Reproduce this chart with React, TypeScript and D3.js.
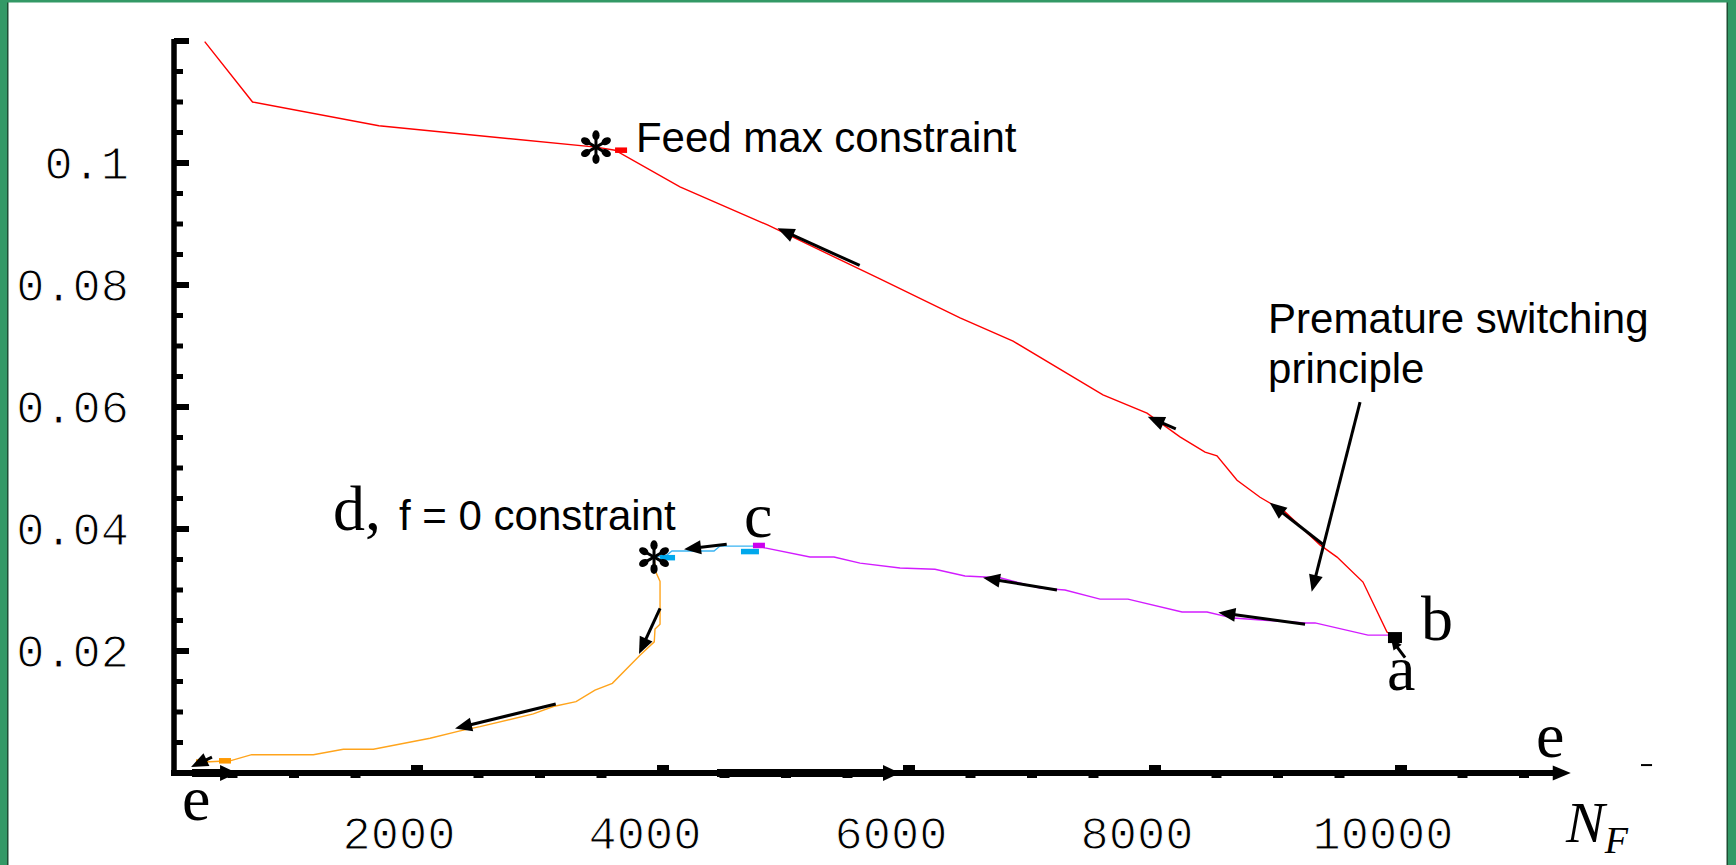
import * as d3 from 'd3';

// upper branch (feed max constraint), from top-left down to b
const redN = [274, 663, 1690, 3455, 3610, 4138, 4854, 5764, 6415, 6846, 7577, 7935, 8203, 8407, 8504, 8667, 8854, 9057, 9341, 9480, 9691, 9886, 9927];
const redV = [0.1199, 0.11, 0.1061, 0.1026, 0.1021, 0.0961, 0.0898, 0.081, 0.0746, 0.0708, 0.062, 0.059, 0.0551, 0.0526, 0.052, 0.048, 0.0452, 0.0428, 0.0374, 0.0354, 0.0313, 0.0231, 0.0226];

// lower branch b -> c
const purpleN = [9911, 9732, 9301, 9220, 8634, 8423, 8220, 7780, 7553, 7268, 7065, 6740, 6455, 6211, 5927, 5602, 5390, 5195, 4829, 4780];
const purpleV = [0.0226, 0.0226, 0.0246, 0.0246, 0.0254, 0.0264, 0.0264, 0.0285, 0.0285, 0.03, 0.0303, 0.032, 0.0323, 0.0334, 0.0336, 0.0344, 0.0354, 0.0354, 0.0369, 0.0372];

// c -> d
const blueN = [4780, 4463, 4415, 4073, 4024, 3927];
const blueV = [0.0372, 0.0372, 0.0364, 0.0364, 0.0356, 0.0354];

// d -> e
const orangeN = [3927, 3941, 3976, 3976, 3935, 3929, 3813, 3588, 3447, 3293, 3108, 2946, 2512, 2350, 2106, 1645, 1401, 1157, 656, 480, 276, 236];
const orangeV = [0.0354, 0.033, 0.0314, 0.0244, 0.0236, 0.0215, 0.0193, 0.0147, 0.0136, 0.0117, 0.0109, 0.0097, 0.0076, 0.0069, 0.0057, 0.0039, 0.0039, 0.003, 0.003, 0.002, 0.0018, 0.0018];

// switching-point markers
const starN = [3455, 3927];
const starV = [0.1026, 0.0354];
const markN = [3659, 4037, 4707, 4780, 439, 252, 9951];
const markV = [0.1021, 0.0353, 0.0363, 0.0373, 0.002, 0.0018, 0.0222];
const markColor = ['#ff0000', '#00a8ec', '#00a8ec', '#cc00ee', '#ff9900', '#ff9900', '#000000'];

// direction arrows: tail -> tip
const arrowFromN = [5599, 8169, 9364, 9667, 9220, 7203, 4518, 3976, 3128, 333, 10033];
const arrowFromV = [0.0832, 0.0564, 0.0375, 0.0608, 0.0244, 0.03, 0.0375, 0.027, 0.0113, 0.0026, 0.0189];
const arrowToN = [4931, 7941, 8933, 9274, 8515, 6602, 4171, 3805, 2309, 163, 9919];
const arrowToV = [0.0893, 0.0584, 0.0443, 0.0297, 0.0263, 0.032, 0.0367, 0.0195, 0.0073, 0.001, 0.022];
// arrows lying on the N axis
const axisArrowFrom = [171, 4439];
const axisArrowTo = [537, 5927];

const xTicks = [2000, 4000, 6000, 8000, 10000];
const xTickLabels = ['2000', '4000', '6000', '8000', '10000'];
const yTicks = [0.02, 0.04, 0.06, 0.08, 0.1];
const yTickLabels = ['0.02', '0.04', '0.06', '0.08', '0.1'];

const W = 1736;
const H = 865;

const x = d3.scaleLinear().domain([0, 12000]).range([171, 171 + 12000 * 0.123]);
const y = d3.scaleLinear().domain([0, 0.12]).range([773, 41]);

const line = d3.line<number>();

function pathOf(ns: number[], vs: number[]) {
  return line(ns.map((n, i) => [x(n), y(vs[i])] as [number, number]));
}

function Arrow({ x1, y1, x2, y2, w = 3, L = 17, hw = 7 }: any) {
  const dx = x2 - x1, dy = y2 - y1;
  const len = Math.hypot(dx, dy);
  const ux = dx / len, uy = dy / len;
  const bx = x2 - ux * L, by = y2 - uy * L;
  const pts = [
    [x2, y2],
    [bx - uy * hw, by + ux * hw],
    [bx + uy * hw, by - ux * hw],
  ];
  return (
    <g>
      <line x1={x1} y1={y1} x2={bx + ux * 2} y2={by + uy * 2} stroke="#000" strokeWidth={w} />
      <polygon points={pts.map(p => p.join(',')).join(' ')} fill="#000" />
    </g>
  );
}

// six-armed asterisk with teardrop ends
function Star({ cx, cy }: { cx: number; cy: number }) {
  const r = 16;
  const angles = [-90, -30, 30, 90, 150, 210];
  return (
    <g>
      {angles.map(a => {
        const t = (a * Math.PI) / 180;
        const c = Math.cos(t), s = Math.sin(t);
        return (
          <g key={a}>
            <line x1={cx} y1={cy} x2={cx + c * r * 0.7} y2={cy + s * r * 0.7} stroke="#000" strokeWidth={3} />
            <ellipse
              cx={cx + c * r * 0.74}
              cy={cy + s * r * 0.74}
              rx={5}
              ry={3.6}
              transform={`rotate(${a} ${cx + c * r * 0.74} ${cy + s * r * 0.74})`}
              fill="#000"
            />
          </g>
        );
      })}
    </g>
  );
}

export default function App() {
  const yMinor = d3.range(0.005, 0.1201, 0.005).filter(v => Math.abs(v / 0.02 - Math.round(v / 0.02)) > 0.01);
  const xMinor = d3.range(500, 11300, 500).filter(n => n % 2000 !== 0);
  const axisY = y(0);
  const axisEnd = x(11250);
  const mono = "'Liberation Mono', 'DejaVu Sans Mono', monospace";
  const sans = "'Liberation Sans', Arial, sans-serif";
  const serif = "'Liberation Serif', 'Times New Roman', serif";

  return (
    <svg width={W} height={H} style={{ position: 'absolute', left: 0, top: 0, display: 'block', background: '#fff' }}>
      {/* frame */}
      <rect x={0} y={0} width={7} height={H} fill="#339966" />
      <rect x={7} y={0} width={1.5} height={H} fill="#1d4d33" />
      <rect x={W - 8} y={0} width={8} height={H} fill="#339966" />
      <rect x={W - 9.5} y={0} width={1.5} height={H} fill="#1d4d33" />
      <rect x={0} y={0} width={W} height={2.5} fill="#339966" />

      {/* y axis */}
      <line x1={174} x2={174} y1={39} y2={axisY + 3} stroke="#000" strokeWidth={5.5} />
      {yMinor.map(v => (
        <line key={'ym' + v} x1={174} x2={183} y1={y(v)} y2={y(v)} stroke="#000" strokeWidth={5} />
      ))}
      {[...yTicks, 0.12].map(v => (
        <line key={'yM' + v} x1={174} x2={189} y1={y(v)} y2={y(v)} stroke="#000" strokeWidth={6} />
      ))}
      {yTicks.map((v, i) => (
        <text key={'yl' + v} x={129} y={y(v) + 16} textAnchor="end" fontFamily={mono} fontSize={47} fill="#000" stroke="#fff" strokeWidth={1.1}>
          {yTickLabels[i]}
        </text>
      ))}

      {/* x axis */}
      <line x1={171} x2={axisEnd} y1={axisY} y2={axisY} stroke="#000" strokeWidth={6} />
      <polygon points={`${axisEnd - 2},${axisY - 7.5} ${axisEnd + 16},${axisY} ${axisEnd - 2},${axisY + 7.5}`} fill="#000" />
      {xMinor.map(n => (
        <rect key={'xm' + n} x={x(n) - 5} y={axisY + 2} width={10} height={3} fill="#000" />
      ))}
      {xTicks.map(n => (
        <rect key={'xM' + n} x={x(n) - 6} y={axisY - 8} width={12} height={8} fill="#000" />
      ))}
      {xTicks.map((n, i) => (
        <text key={'xl' + n} x={x(n) - 18} y={849} textAnchor="middle" fontFamily={mono} fontSize={47} fill="#000" stroke="#fff" strokeWidth={1.1}>
          {xTickLabels[i]}
        </text>
      ))}
      <line x1={x(11951)} x2={x(12041)} y1={y(0.0013)} y2={y(0.0013)} stroke="#000" strokeWidth={2} />

      {/* trajectory */}
      <path d={pathOf(redN, redV) || ''} fill="none" stroke="#ff0000" strokeWidth={1.4} />
      <path d={pathOf(purpleN, purpleV) || ''} fill="none" stroke="#d21cff" strokeWidth={1.4} />
      <path d={pathOf(blueN, blueV) || ''} fill="none" stroke="#3ab4f2" strokeWidth={1.4} />
      <path d={pathOf(orangeN, orangeV) || ''} fill="none" stroke="#ffa41c" strokeWidth={1.4} />

      {markN.map((n, i) => {
        const w = i === 6 ? 14 : i === 2 ? 18 : i === 1 ? 15 : 12;
        const h = i === 6 ? 11 : 5.5;
        return <rect key={'mk' + i} x={x(n) - w / 2} y={y(markV[i]) - h / 2} width={w} height={h} fill={markColor[i]} />;
      })}

      {starN.map((n, i) => (
        <Star key={'st' + i} cx={x(n)} cy={y(starV[i])} />
      ))}

      {arrowFromN.map((n, i) => (
        <Arrow key={'ar' + i} x1={x(n)} y1={y(arrowFromV[i])} x2={x(arrowToN[i])} y2={y(arrowToV[i])} L={i === 10 ? 11 : 17} hw={i === 10 ? 5 : 7} />
      ))}
      {axisArrowFrom.map((n, i) => (
        <Arrow key={'ax' + i} x1={x(n)} y1={axisY} x2={x(axisArrowTo[i])} y2={axisY} w={8} L={17} hw={8} />
      ))}

      {/* annotations */}
      <text x={x(3780)} y={y(0.1018)} fontFamily={sans} fontSize={42} fill="#000">Feed max constraint</text>
      <text x={x(8919)} y={y(0.0721)} fontFamily={sans} fontSize={42} fill="#000">
        <tspan x={x(8919)}>Premature switching</tspan>
        <tspan x={x(8919)} dy={50}>principle</tspan>
      </text>
      <text x={x(1317)} y={y(0.0398)} fontFamily={serif} fontSize={64} fill="#000">d,</text>
      <text x={x(1854)} y={y(0.0398)} fontFamily={sans} fontSize={42} fill="#000">f = 0 constraint</text>
      <text x={x(4659)} y={y(0.0387)} fontFamily={serif} fontSize={64} fill="#000">c</text>
      <text x={x(10163)} y={y(0.0218)} fontFamily={serif} fontSize={64} fill="#000">b</text>
      <text x={x(9886)} y={y(0.0136)} fontFamily={serif} fontSize={64} fill="#000">a</text>
      <text x={x(11098)} y={y(0.0026)} fontFamily={serif} fontSize={64} fill="#000">e</text>
      <text x={x(89)} y={y(-0.0077)} fontFamily={serif} fontSize={64} fill="#000">e</text>
      <text x={x(11341)} y={842} fontFamily={serif} fontStyle="italic" fontSize={58} fill="#000">
        N<tspan fontSize={38} dy={11}>F</tspan>
      </text>
    </svg>
  );
}
